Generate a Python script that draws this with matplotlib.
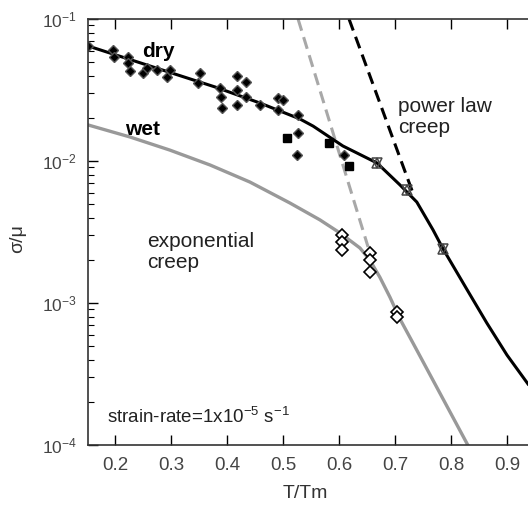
import matplotlib
matplotlib.use('Agg')
import matplotlib.pyplot as plt

plt.rcParams['font.family'] = ['Liberation Sans', 'DejaVu Sans']
plt.rcParams['mathtext.fontset'] = 'custom'
plt.rcParams['mathtext.rm'] = 'Liberation Sans'
plt.rcParams['mathtext.it'] = 'Liberation Sans:italic'
plt.rcParams['mathtext.bf'] = 'Liberation Sans:bold'

# curves (T/Tm, sigma/mu)
dry_x = [0.152, 0.2625, 0.379, 0.459, 0.530, 0.554, 0.607, 0.668, 0.709, 0.739, 0.768,
         0.786, 0.829, 0.864, 0.900, 0.9375]
dry_y = [0.0646, 0.0467, 0.0332, 0.0256, 0.0198, 0.0176, 0.01276, 0.00968, 0.00678, 0.00514,
         0.00327, 0.00240, 0.001236, 0.000723, 0.000430, 0.000269]

wet_x = [0.152, 0.227, 0.298, 0.370, 0.441, 0.5125, 0.566, 0.602, 0.6375, 0.655, 0.673,
         0.691, 0.709, 0.736, 0.830]
wet_y = [0.01795, 0.01476, 0.01194, 0.00937, 0.00711, 0.00506, 0.00385, 0.00311, 0.00244,
         0.00201, 0.00152, 0.00110, 0.000771, 0.000490, 0.0001]

# power law creep (dashed) lines
pl_dry_x = [0.618, 0.732]
pl_dry_y = [0.1, 0.00596]
pl_wet_x = [0.527, 0.652]
pl_wet_y = [0.1, 0.00248]

# experimental points
dry_pts_x = [0.152, 0.196, 0.198, 0.223, 0.223, 0.227, 0.250, 0.257, 0.275, 0.293, 0.298,
             0.352, 0.348, 0.3875, 0.389, 0.391, 0.418, 0.418, 0.418, 0.434, 0.434, 0.459,
             0.491, 0.491, 0.500, 0.527, 0.527, 0.525, 0.609]
dry_pts_y = [0.0646, 0.0605, 0.0540, 0.0540, 0.0490, 0.0430, 0.0417, 0.0452, 0.0437, 0.0391, 0.0437,
             0.0417, 0.0354, 0.0327, 0.0282, 0.0236, 0.0397, 0.0316, 0.0248, 0.0360, 0.0282, 0.0248,
             0.0278, 0.0229, 0.0269, 0.0211, 0.0157, 0.0110, 0.0110]
sq_x = [0.507, 0.582, 0.618]
sq_y = [0.0145, 0.0134, 0.00923]
tri_x = [0.668, 0.721, 0.786]
tri_y = [0.00968, 0.00625, 0.00240]
wet_pts_x = [0.605, 0.605, 0.605, 0.655, 0.655, 0.655, 0.704, 0.704]
wet_pts_y = [0.00301, 0.00269, 0.00236, 0.00225, 0.00201, 0.00165, 0.000865, 0.000796]

xticks = [0.2, 0.3, 0.4, 0.5, 0.6, 0.7, 0.8, 0.9]

fig = plt.figure(figsize=(5.28, 5.05), dpi=100)
# axes runs past the right edge like the cropped original
ax = fig.add_axes([88 / 528, 60 / 505, 475 / 528, 426 / 505])
ax.set_yscale('log')

ax.plot(pl_wet_x, pl_wet_y, color='#a8a8a8', lw=2.2, dashes=(4, 2.2))
ax.plot(pl_dry_x, pl_dry_y, color='black', lw=2.2, dashes=(4, 2.2))
ax.plot(wet_x, wet_y, color='#999999', lw=2.4)
ax.plot(dry_x, dry_y, color='black', lw=2.2)

ax.plot(dry_pts_x, dry_pts_y, 'D', color='black', ms=5, mec='#555555')
ax.plot(sq_x, sq_y, 's', color='black', ms=6)
ax.plot(tri_x, tri_y, '^', mfc='none', mec='#444444', ms=6.5, mew=1.1)
ax.plot(tri_x, tri_y, 'v', mfc='none', mec='#444444', ms=6.5, mew=1.1)
ax.plot(wet_pts_x, wet_pts_y, 'D', mfc='white', mec='black', ms=6.5, mew=1.2)

ax.set_xlim(0.152, 1.0)
ax.set_ylim(1e-4, 1e-1)
ax.set_xticks(xticks)
ax.set_xticklabels([str(t) for t in xticks])

ax.tick_params(axis='x', which='both', direction='in', top=True, length=7, width=1,
               labelsize=13.5, labelcolor='#444444', pad=9)
ax.tick_params(axis='y', which='major', direction='in', length=7, width=1,
               labelsize=12.5, labelcolor='#444444', pad=8)
ax.tick_params(axis='y', which='minor', direction='in', length=4, width=0.8)
for s in ax.spines.values():
    s.set_color('#333333')
    s.set_linewidth(1.2)

# labels inside the plot
ax.text(0.248, 0.054, 'dry', fontsize=15, fontweight='bold', va='baseline')
ax.text(0.218, 0.01525, 'wet', fontsize=15, fontweight='bold', va='baseline')
ax.text(0.705, 0.0221, 'power law', fontsize=15, color='#222222', va='baseline')
ax.text(0.705, 0.0157, 'creep', fontsize=15, color='#222222', va='baseline')
ax.text(0.257, 0.00248, 'exponential', fontsize=15, color='#222222', va='baseline')
ax.text(0.257, 0.00176, 'creep', fontsize=15, color='#222222', va='baseline')
ax.text(0.186, 0.000143, r'strain-rate=1x10$^{-5}$ s$^{-1}$', fontsize=13.5,
        color='#222222', va='baseline')

fig.text(305 / 528, 1 - 494 / 505, 'T/Tm', fontsize=14, color='#333333', ha='center', va='center')
fig.text(18 / 528, 1 - 239 / 505, 'σ/μ', fontsize=14, color='#333333', ha='center', va='center',
         rotation=90)

plt.savefig('out.png', dpi=100)
